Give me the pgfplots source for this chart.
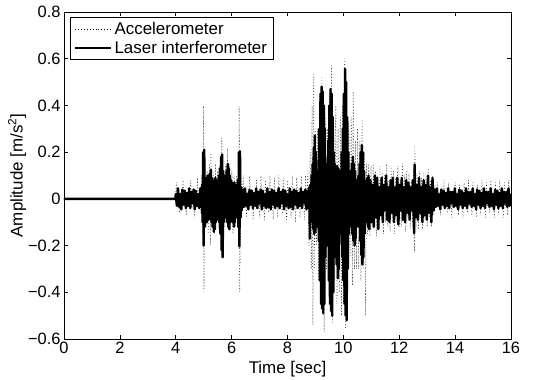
\documentclass[border=0pt]{standalone}
\usepackage{pgfplots}
\pgfplotsset{compat=1.18}
\usepackage{fontspec}
\setmainfont{Liberation Sans}
\begin{document}
\begin{tikzpicture}
\begin{axis}[
  scale only axis, width=447bp, height=327bp,
  xmin=0, xmax=16, ymin=-0.6, ymax=0.8,
  xtick={0,2,4,6,8,10,12,14,16}, xticklabels={0,2,4,6,8,10,12,14,16},
  ytick={-0.6,-0.4,-0.2,0,0.2,0.4,0.6,0.8},
  yticklabels={−0.6,−0.4,−0.2,0,0.2,0.4,0.6,0.8},
  tick align=inside, major tick length=4.5bp,
  axis line style={line width=0.6pt},
  every tick/.style={black, line width=0.6pt},
  tick label style={font=\fontsize{16.5}{18}\selectfont},
  label style={font=\fontsize{17}{19}\selectfont},
  xlabel={Time [sec]}, ylabel={Amplitude [m/s\textsuperscript{2}]},
  xlabel style={yshift=0bp},
  ylabel style={yshift=-5bp},
  legend style={at={(0,1)}, anchor=north west, xshift=6bp, yshift=-5bp,
    font=\fontsize{17}{19}\selectfont, draw=black, inner xsep=4pt, inner ysep=3pt,
    row sep=1pt},
  legend cell align=left,
  legend image code/.code={\draw[#1] (0bp,0bp) -- (36bp,0bp);},
]
\addplot[black, line width=0.5pt, dash pattern=on 0.7pt off 2.2pt] coordinates {
(0,0) (3.99,0)
(4.02,0.07) (4.06,-0.03) (4.10,0.03) (4.14,-0.06) (4.18,0.03) (4.22,-0.03) (4.26,0.08) (4.30,-0.03)
(4.34,0.03) (4.38,-0.07) (4.42,0.03) (4.46,-0.03) (4.50,0.03) (4.52,-0.03) (4.54,0.08) (4.58,-0.04)
(4.62,0.03) (4.66,-0.08) (4.70,0.03) (4.74,-0.03) (4.78,0.09) (4.82,-0.04) (4.86,0.03) (4.90,-0.06)
(4.94,0.1) (4.97,-0.15) (4.99,0.40) (5.01,-0.397) (5.04,0.15) (5.08,-0.12) (5.12,0.12) (5.16,-0.15)
(5.20,0.15) (5.24,-0.197) (5.26,0.196) (5.30,-0.12) (5.34,0.12) (5.38,-0.15) (5.42,0.15) (5.46,-0.1)
(5.50,0.12) (5.54,-0.13) (5.58,0.1) (5.62,-0.2) (5.65,0.26) (5.67,-0.254) (5.71,0.12) (5.75,-0.12)
(5.79,0.15) (5.83,-0.1) (5.85,0.217) (5.89,-0.12) (5.93,0.15) (5.97,-0.1) (6.01,0.12) (6.05,-0.15)
(6.09,0.1) (6.13,-0.12) (6.17,0.1) (6.21,-0.1) (6.25,-0.15) (6.27,0.396) (6.29,-0.397) (6.33,0.08)
(6.37,-0.05) (6.41,0.1) (6.45,-0.03) (6.49,0.03) (6.53,-0.08) (6.57,0.03) (6.61,-0.03) (6.65,0.1)
(6.69,-0.04) (6.73,0.03) (6.77,-0.09) (6.81,0.03) (6.85,-0.03) (6.89,0.08) (6.93,-0.04) (6.97,0.03)
(7.01,-0.08) (7.05,0.1) (7.09,-0.03) (7.13,0.03) (7.17,-0.09) (7.21,0.08) (7.25,-0.03) (7.29,0.03)
(7.33,-0.06) (7.37,0.1) (7.41,-0.04) (7.45,0.03) (7.49,-0.09) (7.53,0.09) (7.57,-0.03) (7.61,0.03)
(7.65,-0.08) (7.69,0.1) (7.73,-0.04) (7.77,0.03) (7.81,-0.07) (7.85,0.09) (7.89,-0.03) (7.93,0.03)
(7.97,-0.1) (8.01,0.08) (8.05,-0.03) (8.09,0.03) (8.13,-0.08) (8.17,0.1) (8.21,-0.04) (8.25,0.03)
(8.29,-0.1) (8.33,0.09) (8.37,-0.03) (8.41,0.04) (8.45,-0.08) (8.49,0.1) (8.53,-0.04) (8.57,0.03)
(8.61,-0.09) (8.65,0.1) (8.69,-0.03) (8.73,0.12) (8.77,-0.2) (8.81,0.2) (8.85,-0.3) (8.88,0.4)
(8.91,-0.54) (8.94,0.54) (8.97,-0.3) (9.00,0.3) (9.04,-0.2) (9.08,0.3) (9.12,-0.35) (9.16,0.45)
(9.20,-0.3) (9.23,0.52) (9.27,-0.35) (9.29,0.3) (9.31,-0.57) (9.35,0.35) (9.39,-0.3) (9.43,0.3)
(9.47,-0.35) (9.51,0.45) (9.55,-0.45) (9.57,0.57) (9.61,-0.53) (9.65,0.3) (9.69,-0.35) (9.73,0.4)
(9.77,-0.45) (9.81,0.3) (9.85,-0.4) (9.89,0.35) (9.93,-0.5) (9.97,0.4) (10.01,-0.45) (10.05,0.6)
(10.08,-0.557) (10.12,0.45) (10.16,-0.3) (10.20,0.3) (10.24,-0.25) (10.28,0.35) (10.32,-0.37) (10.35,0.46)
(10.39,-0.3) (10.43,0.25) (10.47,-0.3) (10.51,0.3) (10.55,-0.3) (10.59,0.25) (10.63,-0.35) (10.67,0.34)
(10.71,-0.3) (10.75,0.2) (10.79,-0.5) (10.83,0.15) (10.87,-0.15) (10.91,0.15) (10.95,-0.16) (10.99,0.14)
(11.03,-0.12) (11.07,0.15) (11.11,-0.1) (11.15,0.12) (11.19,-0.16) (11.23,0.1) (11.27,-0.12) (11.31,0.14)
(11.35,-0.08) (11.39,0.12) (11.43,-0.15) (11.47,0.1) (11.51,-0.1) (11.55,0.15) (11.59,-0.12) (11.63,0.08)
(11.67,-0.14) (11.71,0.13) (11.75,-0.08) (11.79,0.12) (11.83,-0.15) (11.87,0.09) (11.91,-0.1) (11.95,0.14)
(11.99,-0.13) (12.03,0.08) (12.07,-0.12) (12.11,0.15) (12.15,-0.09) (12.19,0.1) (12.23,-0.14) (12.27,0.12)
(12.31,-0.08) (12.35,0.11) (12.39,-0.13) (12.43,0.08) (12.47,-0.1) (12.51,0.12) (12.54,-0.23) (12.56,0.23)
(12.60,-0.12) (12.64,0.1) (12.68,-0.13) (12.72,0.12) (12.76,-0.08) (12.80,0.09) (12.84,-0.13) (12.88,0.11)
(12.92,-0.09) (12.96,0.1) (13.00,-0.12) (13.04,0.13) (13.08,-0.08) (13.12,0.08) (13.16,-0.12) (13.20,0.1)
(13.24,-0.07) (13.28,0.06) (13.32,-0.03) (13.36,0.07) (13.40,-0.03) (13.44,0.03) (13.48,-0.07) (13.52,0.03)
(13.56,-0.03) (13.60,0.08) (13.64,-0.04) (13.68,0.03) (13.72,-0.06) (13.76,0.07) (13.80,-0.03) (13.84,0.03)
(13.88,-0.08) (13.92,0.03) (13.96,-0.03) (14.00,0.07) (14.04,-0.04) (14.08,0.03) (14.12,-0.07) (14.16,0.06)
(14.20,-0.03) (14.24,0.03) (14.28,-0.08) (14.32,0.07) (14.36,-0.03) (14.40,0.03) (14.44,-0.06) (14.48,0.08)
(14.52,-0.03) (14.56,0.03) (14.60,-0.07) (14.64,0.07) (14.68,-0.04) (14.72,0.03) (14.76,-0.08) (14.80,0.06)
(14.84,-0.03) (14.88,0.03) (14.92,-0.07) (14.96,0.08) (15.00,-0.03) (15.04,0.03) (15.08,-0.08) (15.12,0.07)
(15.16,-0.03) (15.20,0.03) (15.24,-0.06) (15.28,0.08) (15.32,-0.04) (15.36,0.03) (15.40,-0.08) (15.44,0.07)
(15.48,-0.03) (15.52,0.03) (15.56,-0.07) (15.60,0.08) (15.64,-0.03) (15.68,0.03) (15.72,-0.08) (15.76,0.07)
(15.80,-0.04) (15.84,0.03) (15.88,-0.07) (15.92,0.08) (15.96,-0.03) (16.00,0.03)
};
\addlegendentry{Accelerometer}
\addplot[black, line width=2.4pt, line join=round] coordinates {
(0,0) (3.99,0)
(4.00,0.02) (4.04,-0.03) (4.08,0.045) (4.12,-0.035) (4.16,0.02) (4.20,-0.045) (4.24,0.04) (4.28,-0.025)
(4.32,0.035) (4.36,-0.04) (4.40,0.025) (4.44,-0.03) (4.48,0.045) (4.52,-0.04) (4.56,0.03) (4.60,-0.02)
(4.64,0.04) (4.68,-0.045) (4.72,0.035) (4.76,-0.03) (4.80,0.02) (4.84,-0.04) (4.88,0.045)
(4.90,0.03) (4.92,-0.035) (4.94,0.06) (4.96,-0.1) (4.98,0.2) (5.00,-0.2) (5.02,0.21) (5.04,-0.12)
(5.06,0.08) (5.08,-0.1) (5.10,0.09) (5.12,-0.1) (5.14,0.1) (5.16,-0.09) (5.18,0.1) (5.20,-0.08)
(5.22,0.11) (5.24,-0.09) (5.26,0.125) (5.28,-0.1) (5.30,0.09) (5.32,-0.12) (5.34,0.08) (5.36,-0.14)
(5.38,0.07) (5.40,-0.13) (5.42,0.09) (5.44,-0.1) (5.46,0.08) (5.48,-0.09) (5.50,0.07) (5.52,-0.08)
(5.54,0.1) (5.56,-0.1) (5.58,0.13) (5.60,-0.15) (5.62,0.18) (5.64,-0.22) (5.66,0.19) (5.68,-0.25)
(5.70,0.12) (5.72,-0.1) (5.74,0.1) (5.76,-0.08) (5.78,0.09) (5.80,-0.08) (5.82,0.12) (5.84,-0.1)
(5.86,0.15) (5.88,-0.12) (5.90,0.13) (5.92,-0.13) (5.94,0.1) (5.96,-0.1) (5.98,0.08) (6.00,-0.09)
(6.02,0.07) (6.04,-0.1) (6.06,0.06) (6.08,-0.12) (6.10,0.07) (6.12,-0.1) (6.14,0.06) (6.16,-0.08)
(6.18,0.06) (6.20,-0.07) (6.22,0.08) (6.24,-0.12) (6.26,0.2) (6.28,-0.204) (6.30,0.203) (6.32,-0.08)
(6.34,0.05) (6.36,-0.05) (6.38,0.04) (6.40,-0.035) (6.42,0.04) (6.44,-0.035)
(6.48,0.045) (6.52,-0.03) (6.56,0.02) (6.60,-0.045) (6.64,0.04) (6.68,-0.025) (6.72,0.035) (6.76,-0.04)
(6.80,0.025) (6.84,-0.03) (6.88,0.045) (6.92,-0.04) (6.96,0.03) (7.00,-0.02) (7.04,0.04) (7.08,-0.045)
(7.12,0.035) (7.16,-0.03) (7.20,0.02) (7.24,-0.04) (7.28,0.045) (7.32,-0.035) (7.36,0.03) (7.40,-0.045)
(7.44,0.04) (7.48,-0.025) (7.52,0.035) (7.56,-0.04) (7.60,0.025) (7.64,-0.03) (7.68,0.045) (7.72,-0.04)
(7.76,0.03) (7.80,-0.02) (7.84,0.04) (7.88,-0.045) (7.92,0.035) (7.96,-0.03) (8.00,0.02) (8.04,-0.04)
(8.08,0.045) (8.12,-0.035) (8.16,0.03) (8.20,-0.045) (8.24,0.04) (8.28,-0.025) (8.32,0.035) (8.36,-0.04)
(8.40,0.025) (8.44,-0.03) (8.48,0.045) (8.52,-0.04) (8.56,0.03) (8.60,-0.02) (8.64,0.04) (8.68,-0.045)
(8.72,0.035) (8.75,-0.04) (8.78,0.05) (8.80,-0.17) (8.82,0.06) (8.84,-0.1) (8.86,0.1) (8.88,-0.1)
(8.90,0.15) (8.92,-0.13) (8.94,0.22) (8.96,-0.15) (8.98,0.27) (9.00,-0.14) (9.02,0.2) (9.04,-0.12)
(9.06,0.1) (9.08,-0.1) (9.10,0.12) (9.12,-0.18) (9.14,0.3) (9.16,-0.35) (9.18,0.45) (9.20,-0.45)
(9.22,0.48) (9.24,-0.47) (9.26,0.46) (9.28,-0.49) (9.30,0.4) (9.32,-0.45) (9.34,0.3) (9.36,-0.25)
(9.38,0.15) (9.40,-0.15) (9.42,0.12) (9.44,-0.2) (9.46,0.25) (9.48,-0.35) (9.50,0.4) (9.52,-0.45)
(9.54,0.47) (9.56,-0.48) (9.58,0.45) (9.60,-0.5) (9.62,0.35) (9.64,-0.4) (9.66,0.2) (9.68,-0.25)
(9.70,0.15) (9.72,-0.2) (9.74,0.12) (9.76,-0.28) (9.78,0.14) (9.80,-0.34) (9.82,0.13) (9.84,-0.3)
(9.86,0.1) (9.88,-0.15) (9.90,0.12) (9.92,-0.15) (9.94,0.2) (9.96,-0.25) (9.98,0.3) (10.00,-0.35)
(10.02,0.45) (10.04,-0.45) (10.06,0.557) (10.08,-0.5) (10.10,0.5) (10.12,-0.52) (10.14,0.35) (10.16,-0.3)
(10.18,0.2) (10.20,-0.15) (10.22,0.1) (10.24,-0.1) (10.26,0.12) (10.28,-0.12) (10.30,0.15) (10.32,-0.15)
(10.34,0.18) (10.36,-0.18) (10.38,0.15) (10.40,-0.2) (10.42,0.12) (10.44,-0.17) (10.46,0.08) (10.48,-0.12)
(10.50,0.08) (10.52,-0.1) (10.54,0.1) (10.56,-0.12) (10.58,0.15) (10.60,-0.18) (10.62,0.2) (10.64,-0.24)
(10.66,0.23) (10.68,-0.28) (10.70,0.2) (10.72,-0.25) (10.74,0.12) (10.76,-0.15) (10.78,0.08) (10.80,-0.1)
(10.82,0.07) (10.84,-0.1) (10.86,0.09) (10.88,-0.12) (10.90,0.1)
(10.93,-0.13) (10.97,0.08)
(11.01,-0.1) (11.05,0.06) (11.09,-0.12) (11.13,0.1) (11.17,-0.08) (11.21,0.09) (11.25,-0.13) (11.29,0.05)
(11.33,-0.07) (11.37,0.09) (11.41,-0.1) (11.45,0.06) (11.49,-0.05) (11.53,0.1) (11.57,-0.09) (11.61,0.05)
(11.65,-0.1) (11.69,0.08) (11.73,-0.06) (11.77,0.09) (11.81,-0.1) (11.85,0.05) (11.89,-0.07) (11.93,0.09)
(11.97,-0.11) (12.01,0.06) (12.05,-0.05) (12.09,0.09) (12.13,-0.09) (12.17,0.05) (12.21,-0.1) (12.25,0.08)
(12.29,-0.06) (12.33,0.07) (12.37,-0.09) (12.41,0.05) (12.45,-0.05) (12.49,0.08) (12.53,-0.147) (12.55,0.147)
(12.59,-0.08) (12.63,0.06) (12.67,-0.09) (12.71,0.09) (12.75,-0.06) (12.79,0.05) (12.83,-0.1) (12.87,0.08)
(12.91,-0.07) (12.95,0.06) (12.99,-0.09) (13.03,0.1) (13.07,-0.06) (13.11,0.05) (13.15,-0.1) (13.19,0.09)
(13.23,-0.05) (13.27,0.04) (13.31,-0.035) (13.35,0.045) (13.39,-0.03) (13.43,0.02) (13.47,-0.045) (13.51,0.04)
(13.55,-0.025) (13.59,0.035) (13.63,-0.04) (13.67,0.025) (13.71,-0.03) (13.75,0.045) (13.79,-0.04) (13.83,0.03)
(13.87,-0.02) (13.91,0.03) (13.95,-0.035) (13.99,0.045) (14.03,-0.03) (14.07,0.02) (14.11,-0.045) (14.15,0.04)
(14.19,-0.025) (14.23,0.035) (14.27,-0.04) (14.31,0.025) (14.35,-0.03) (14.39,0.045) (14.43,-0.04) (14.47,0.03)
(14.51,-0.02) (14.55,0.03) (14.59,-0.035) (14.63,0.045) (14.67,-0.03) (14.71,0.02) (14.75,-0.045) (14.79,0.04)
(14.83,-0.025) (14.87,0.035) (14.91,-0.04) (14.95,0.025) (14.99,-0.03) (15.03,0.045) (15.07,-0.04) (15.11,0.03)
(15.15,-0.02) (15.19,0.03) (15.23,-0.035) (15.27,0.045) (15.31,-0.03) (15.35,0.02) (15.39,-0.045) (15.43,0.04)
(15.47,-0.025) (15.51,0.035) (15.55,-0.04) (15.59,0.025) (15.63,-0.03) (15.67,0.045) (15.71,-0.04) (15.75,0.03)
(15.79,-0.02) (15.83,0.03) (15.87,-0.035) (15.91,0.045) (15.95,-0.03) (15.99,0.02)
};
\addlegendentry{Laser interferometer}
\end{axis}
\pgfresetboundingbox
\path[use as bounding box] (current axis.south west) ++(-64bp,-41bp) rectangle ++(550bp,380bp);
\end{tikzpicture}
\end{document}
